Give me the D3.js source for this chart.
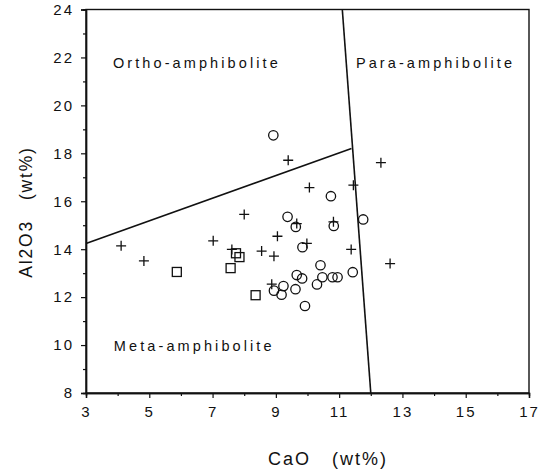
<!DOCTYPE html>
<html><head><meta charset="utf-8">
<script src="https://cdn.jsdelivr.net/npm/d3@7"></script>
<style>
body{margin:0;background:#fff;}
svg text{font-family:"Liberation Sans","Helvetica",Arial,sans-serif;fill:#111;}
</style></head>
<body><svg id="c" width="549" height="473"></svg>
<script>
// ---- data ----
const xTicks = [3,5,7,9,11,13,15,17];
const yTicks = [8,10,12,14,16,18,20,22,24];
const xMinor = [4,6,8,10,12,14,16];
const yMinor = [9,11,13,15,17,19,21,23];
// crosses (+)
const crossCaO = [10.06,11.45,8.00,9.66,10.82,7.02,9.05,9.98,7.61,8.55,8.94,11.38,8.87,12.32,12.61,4.11,4.83,9.39];
const crossAl  = [16.57,16.67,15.45,15.07,15.14,14.35,14.54,14.24,13.99,13.92,13.71,13.99,12.54,17.61,13.40,14.14,13.51,17.71];
// circles (o)
const circCaO = [9.37,10.74,11.76,10.41,9.66,9.83,10.47,10.79,10.95,11.43,10.30,9.62,8.94,9.24,9.18,9.92,9.84,10.83,9.63,8.92];
const circAl  = [15.35,16.21,15.24,13.33,12.92,12.78,12.83,12.83,12.83,13.04,12.53,12.33,12.27,12.46,12.10,11.63,14.08,14.97,14.93,18.75];
// squares
const sqCaO = [5.87,7.57,7.85,8.36,7.74];
const sqAl  = [13.05,13.21,13.67,12.08,13.83];
// field boundaries [CaO, Al2O3]
const boundaryOrtho = [[3,14.24],[11.39,18.2]];
const boundaryPara  = [[11.1,24],[12.0,8]];
const fieldLabels = ["Ortho-amphibolite","Para-amphibolite","Meta-amphibolite"];
const fieldPos = [[3.85,21.55],[11.53,21.55],[3.88,9.75]];
const xTitle = "CaO   (wt%)";
const yTitle = "Al2O3   (wt%)";

const svg = d3.select("#c");
const x = d3.scaleLinear().domain([3,17]).range([86,529]);
const y = d3.scaleLinear().domain([8,24]).range([393,9.5]);

// frame
svg.append("rect").attr("x",x(3)).attr("y",y(24)).attr("width",x(17)-x(3)).attr("height",y(8)-y(24))
  .attr("fill","none").attr("stroke","#111").attr("stroke-width",1.4);

// axes
const xa = svg.append("g").attr("transform",`translate(0,${y(8)})`)
  .call(d3.axisBottom(x).tickValues(xTicks).tickFormat(d3.format("d")).tickSize(5).tickPadding(8));
const xm = svg.append("g").attr("transform",`translate(0,${y(8)})`)
  .call(d3.axisBottom(x).tickValues(xMinor).tickFormat("").tickSize(3));
const ya = svg.append("g").attr("transform",`translate(${x(3)},0)`)
  .call(d3.axisLeft(y).tickValues(yTicks).tickFormat(d3.format("d")).tickSize(5).tickPadding(7));
const ym = svg.append("g").attr("transform",`translate(${x(3)},0)`)
  .call(d3.axisLeft(y).tickValues(yMinor).tickFormat("").tickSize(3));
[xa,xm,ya,ym].forEach(g=>{
  g.select(".domain").attr("stroke","#111").attr("stroke-width",1.4);
  g.selectAll(".tick line").attr("stroke","#111").attr("stroke-width",1.2);
  g.selectAll("text").attr("font-size",15).attr("letter-spacing","2px").attr("font-family","Liberation Sans, Arial, sans-serif").attr("fill","#111");
});

// boundaries
const line = d3.line().x(d=>x(d[0])).y(d=>y(d[1]));
[boundaryOrtho,boundaryPara].forEach(b=>{
  svg.append("path").attr("d",line(b)).attr("fill","none").attr("stroke","#111").attr("stroke-width",1.6);
});

// field labels
fieldLabels.forEach((t,i)=>{
  svg.append("text").attr("x",x(fieldPos[i][0])).attr("y",y(fieldPos[i][1]))
    .attr("font-size",14.5).attr("letter-spacing","3.1px").text(t);
});

// markers
const sw = 1.3;
circCaO.forEach((c,i)=>{
  svg.append("circle").attr("cx",x(c)).attr("cy",y(circAl[i])).attr("r",4.7)
    .attr("fill","none").attr("stroke","#111").attr("stroke-width",sw);
});
sqCaO.forEach((c,i)=>{
  svg.append("rect").attr("x",x(c)-4.5).attr("y",y(sqAl[i])-4.5).attr("width",9).attr("height",9)
    .attr("fill","none").attr("stroke","#111").attr("stroke-width",sw);
});
crossCaO.forEach((c,i)=>{
  const cx=x(c), cy=y(crossAl[i]), s=5;
  svg.append("path").attr("d",`M${cx-s},${cy}H${cx+s}M${cx},${cy-s}V${cy+s}`)
    .attr("stroke","#111").attr("stroke-width",sw).attr("fill","none");
});

// axis titles
svg.append("text").attr("x",328).attr("y",465).attr("text-anchor","middle")
  .attr("font-size",18).attr("letter-spacing","2px").style("white-space","pre").text(xTitle);
svg.append("text").attr("transform",`translate(32,212) rotate(-90)`).attr("text-anchor","middle")
  .attr("font-size",17.5).attr("letter-spacing","1.8px").style("white-space","pre").text(yTitle);
</script></body></html>
